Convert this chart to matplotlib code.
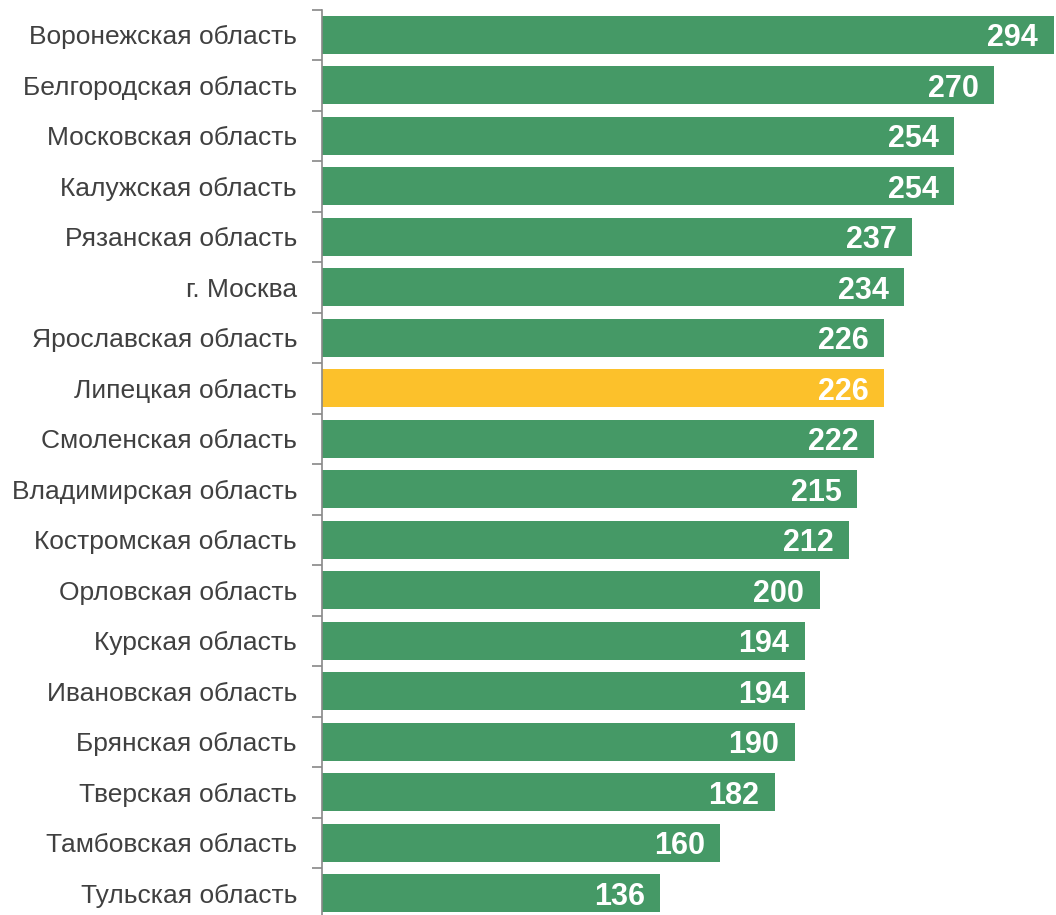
import numpy as np
import matplotlib.pyplot as plt
from matplotlib.ticker import FixedLocator

# Data
regions = ["Воронежская область", "Белгородская область", "Московская область",
           "Калужская область", "Рязанская область", "г. Москва",
           "Ярославская область", "Липецкая область", "Смоленская область",
           "Владимирская область", "Костромская область", "Орловская область",
           "Курская область", "Ивановская область", "Брянская область",
           "Тверская область", "Тамбовская область", "Тульская область"]
values = [294, 270, 254, 254, 237, 234, 226, 226, 222, 215, 212, 200,
          194, 194, 190, 182, 160, 136]
highlight = "Липецкая область"

green = "#459966"
yellow = "#FCC12B"

plt.rcParams['font.family'] = ['Liberation Sans', 'DejaVu Sans']

fig = plt.figure(figsize=(10.56, 9.15), dpi=100)
ax = fig.add_axes([322 / 1056, -0.004, 1 - 322 / 1056, 909 / 915])

y = np.arange(len(regions))
colors = [yellow if r == highlight else green for r in regions]
ax.barh(y, values, height=0.75, color=colors)

# value labels inside bar ends
for yi, v in zip(y, values):
    ax.annotate(str(v), (v, yi), xytext=(-11, 0), textcoords='offset points',
                ha='right', va='center_baseline', color='white', fontsize=22,
                fontweight='bold')

ax.set_xlim(0, 295)
ax.set_ylim(len(regions) - 0.5, -0.5)
ax.set_yticks(y)
ax.set_yticklabels(regions, fontsize=19, color='#404040')
ax.tick_params(axis='y', which='major', length=0, pad=18)
ax.yaxis.set_minor_locator(FixedLocator(np.arange(-0.5, len(regions), 1)))
ax.tick_params(axis='y', which='minor', length=7, color='#888888', width=1.2)
ax.set_xticks([])

for s in ['top', 'right', 'bottom']:
    ax.spines[s].set_visible(False)
ax.spines['left'].set_color('#888888')
ax.spines['left'].set_linewidth(1.2)

fig.savefig("out.png", dpi=100)
